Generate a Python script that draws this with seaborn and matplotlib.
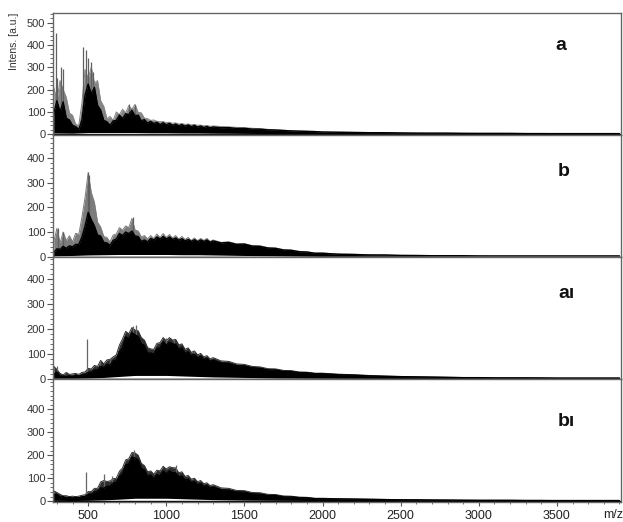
import numpy as np
import matplotlib
matplotlib.use("Agg")
import matplotlib.pyplot as plt
import seaborn as sns
from matplotlib.ticker import MultipleLocator, FixedLocator

sns.set_theme(style="ticks")
plt.rcParams['font.family'] = ['Liberation Sans', 'DejaVu Sans']

# m/z sampling: fine steps through the dense region, coarser in the tail
mz_fine = list(range(280, 1301, 20))
mz_tail = list(range(1350, 2001, 50)) + list(range(2100, 3901, 100))
mz_all = mz_fine + mz_tail
floor_mz = [280, 400, 500, 600, 700, 800, 900, 1000, 1100, 1200, 1300,
            1500, 1700, 2000, 2500, 3000, 3900]

# ---- spectrum a ----
body_a = [95, 150, 100, 145, 72, 64, 40, 34, 22, 64, 175, 225, 180, 210, 130, 108,
          62, 56, 40, 60, 62, 86, 70, 92, 88, 108, 82, 86, 60, 66, 50, 58, 48, 54,
          43, 52, 42, 49, 40, 46, 38, 44, 36, 42, 34, 40, 32, 37, 30, 35, 29, 33,
          29, 30, 26, 27, 23, 23, 20, 19, 17, 15, 14, 13, 12, 10,
          9, 8, 7, 7, 6, 5, 5, 5, 4, 4, 4, 4, 3, 3, 3, 3, 3, 3, 3]
peak_a = [210, 150, 240, 200, 165, 95, 85, 45, 40, 140, 290, 250, 300, 230, 240,
          150, 125, 70, 80, 62, 100, 88, 112, 96, 128, 112, 134, 98, 96, 72, 70,
          62, 64, 58, 56, 57, 52, 54, 49, 51, 46, 48, 44, 46, 42, 44, 40, 41, 38,
          39, 36, 37,
          35, 33, 31, 29, 27, 25, 22, 20, 18, 16, 15, 14, 13, 11,
          10, 9, 8, 7, 6, 6, 5, 5, 5, 4, 4, 4, 4, 4, 3, 3, 3, 3, 3]
spikes_a_mz = [294, 300, 326, 341, 470, 488, 500, 515, 532, 760, 800]
spikes_a_int = [455, 250, 300, 290, 390, 375, 340, 325, 280, 135, 130]
floor_a = [6, 5, 8, 8, 8, 8, 7, 7, 6, 6, 5, 4, 3, 2, 2, 2, 2]

# ---- spectrum b ----
body_b = [18, 32, 30, 42, 34, 44, 40, 50, 50, 80, 125, 180, 150, 125, 88, 84, 58,
          56, 46, 66, 72, 94, 86, 100, 94, 104, 84, 82, 62, 68, 60, 74, 68, 80, 72,
          82, 72, 80, 70, 76, 67, 73, 64, 70, 62, 69, 61, 68, 62, 68, 59, 64,
          56, 58, 50, 51, 43, 42, 35, 34, 27, 26, 20, 19, 14, 14,
          10, 9, 7, 7, 5, 5, 4, 4, 4, 3, 3, 3, 3, 3, 3, 3, 3, 3, 3]
peak_b = [60, 115, 55, 100, 65, 85, 60, 95, 90, 160, 240, 340, 260, 220, 140, 120,
          82, 78, 60, 88, 92, 118, 108, 125, 118, 155, 108, 104, 80, 86, 72, 86,
          74, 92, 78, 94, 78, 90, 76, 86, 72, 82, 70, 78, 66, 76, 65, 74, 66, 74,
          62, 68,
          58, 60, 52, 53, 45, 44, 37, 35, 29, 27, 22, 20, 15, 15,
          11, 10, 8, 7, 6, 5, 5, 4, 4, 4, 3, 3, 3, 3, 3, 3, 3, 3, 3]
spikes_b_mz = [310, 340, 498, 505, 790]
spikes_b_int = [115, 100, 345, 330, 160]
floor_b = [4, 5, 7, 8, 9, 9, 9, 9, 8, 8, 7, 5, 4, 2, 2, 2, 2]

# ---- spectrum a1 ----
body_a1 = [18, 28, 10, 12, 8, 12, 9, 14, 11, 16, 17, 26, 26, 36, 36, 50, 45, 58,
           55, 72, 76, 108, 124, 168, 160, 185, 176, 170, 140, 134, 102, 104, 98,
           122, 124, 148, 136, 146, 140, 138, 118, 124, 102, 108, 92, 98, 84, 90,
           77, 82, 70, 75,
           64, 62, 53, 52, 44, 43, 36, 36, 30, 30, 25, 25, 21, 21,
           17, 15, 12, 10, 9, 8, 7, 6, 5, 5, 4, 4, 4, 4, 3, 3, 3, 3, 3]
peak_a1 = [50, 38, 22, 16, 26, 18, 20, 22, 18, 26, 28, 42, 40, 54, 50, 74, 60, 76,
           78, 88, 96, 135, 160, 190, 180, 205, 195, 192, 165, 155, 125, 120, 118,
           142, 145, 165, 152, 165, 155, 158, 136, 140, 118, 124, 106, 112, 96,
           102, 88, 93, 80, 85,
           72, 70, 60, 58, 50, 48, 41, 40, 34, 33, 28, 27, 23, 23,
           19, 17, 14, 12, 10, 9, 8, 7, 6, 6, 5, 5, 5, 4, 4, 4, 4, 4, 4]
spikes_a1_mz = [300, 490, 575, 640, 790, 805, 1000, 1050, 1180]
spikes_a1_int = [50, 158, 70, 80, 210, 215, 165, 160, 110]
floor_a1 = [3, 3, 4, 6, 10, 14, 14, 14, 12, 10, 8, 6, 4, 3, 2, 2, 2]

# ---- spectrum b1 ----
body_b1 = [28, 30, 18, 20, 14, 17, 13, 17, 14, 20, 20, 30, 30, 40, 42, 58, 56, 66,
           64, 80, 82, 108, 120, 158, 162, 192, 188, 180, 142, 136, 108, 114, 98,
           116, 110, 132, 120, 132, 124, 124, 106, 110, 92, 96, 82, 86, 72, 77, 64,
           69, 57, 61,
           50, 48, 40, 40, 32, 31, 25, 25, 19, 19, 15, 15, 11, 11,
           10, 9, 8, 7, 6, 6, 5, 5, 4, 4, 4, 4, 3, 3, 3, 3, 3, 3, 3]
peak_b1 = [45, 38, 30, 24, 24, 20, 22, 20, 22, 26, 28, 42, 42, 56, 56, 84, 90, 86,
           88, 98, 100, 130, 145, 180, 185, 212, 210, 200, 165, 155, 128, 132, 118,
           135, 132, 152, 140, 150, 146, 145, 124, 128, 108, 112, 96, 100, 85, 90,
           76, 80, 68, 72,
           58, 56, 47, 46, 38, 37, 30, 29, 23, 22, 18, 17, 13, 13,
           11, 10, 9, 8, 7, 6, 6, 5, 5, 4, 4, 4, 4, 4, 3, 3, 3, 3, 3]
spikes_b1_mz = [300, 486, 600, 650, 795, 1060]
spikes_b1_int = [37, 129, 120, 110, 222, 157]
floor_b1 = [4, 3, 4, 6, 9, 13, 13, 13, 11, 9, 7, 5, 4, 3, 2, 2, 2]

panel_labels = ["a", "b", "a\u0131", "b\u0131"]
y_ticks = [[0, 100, 200, 300, 400, 500], [0, 100, 200, 300, 400],
           [0, 100, 200, 300, 400], [0, 100, 200, 300, 400]]
x_ticks = [500, 1000, 1500, 2000, 2500, 3000, 3500]

spectra = [
    (body_a, peak_a, spikes_a_mz, spikes_a_int, floor_a, (-3, 544)),
    (body_b, peak_b, spikes_b_mz, spikes_b_int, floor_b, (-2, 494)),
    (body_a1, peak_a1, spikes_a1_mz, spikes_a1_int, floor_a1, (-2, 486)),
    (body_b1, peak_b1, spikes_b1_mz, spikes_b1_int, floor_b1, (-2, 530)),
]

fig, axes = plt.subplots(4, 1, figsize=(6.23, 5.22), dpi=100, sharex=True,
                         gridspec_kw=dict(hspace=0))
fig.subplots_adjust(left=53 / 623, right=621 / 623,
                    top=1 - 12.7 / 522, bottom=1 - 501.7 / 522)

haze_colors = ["#858585", "#7c7c7c", "#2e2e2e", "#2e2e2e"]
spike_colors = ["#606060", "#606060", "#666666", "#666666"]
label_x = [0.884, 0.889, 0.889, 0.889]
label_y = [0.735, 0.705, 0.70, 0.66]
for i, (ax, (body, peak, smz, sint, floor, ylim)) in enumerate(zip(axes, spectra)):
    haze = haze_colors[i]
    # grey haze of the spike tips, then the dense black signal body
    ax.fill_between(mz_all, 0, peak, color=haze, lw=0, zorder=1)
    sns.lineplot(x=mz_all, y=peak, color=haze, lw=0.7, ax=ax, zorder=1.1,
                 estimator=None, sort=False)
    ax.vlines(smz, 0, sint, color=spike_colors[i], lw=0.9, zorder=1.2)
    ax.fill_between(mz_all, 0, body, color="black", lw=0, zorder=2)
    sns.lineplot(x=mz_all, y=body, color="black", lw=1.0, ax=ax, zorder=2.1,
                 estimator=None, sort=False)
    # noise floor below the signal
    ax.fill_between(floor_mz, -20, floor, color="white", lw=0, zorder=2.2)
    ax.axhline(0, color="black", lw=1.0, zorder=2.3)

    ax.set_xlim(275, 3910)
    ax.set_ylim(*ylim)
    ax.yaxis.set_major_locator(FixedLocator(y_ticks[i]))
    ax.yaxis.set_minor_locator(MultipleLocator(20))
    ax.xaxis.set_major_locator(FixedLocator(x_ticks))
    ax.xaxis.set_minor_locator(MultipleLocator(100))
    ax.set_xlabel("")
    ax.set_ylabel("")
    for sp in ax.spines.values():
        sp.set_color("#666666")
        sp.set_linewidth(1.0)
    ax.tick_params(axis="y", which="major", direction="out", length=4, width=0.8,
                   color="#555555", labelsize=8, labelcolor="#333333", pad=1.5)
    ax.tick_params(axis="y", which="minor", direction="out", length=2, width=0.6,
                   color="#555555")
    ax.tick_params(axis="x", which="major", direction="out", length=3, width=0.8,
                   color="#555555", labelsize=9, labelcolor="#222222", pad=3)
    ax.tick_params(axis="x", which="minor", direction="out", length=1.5, width=0.6,
                   color="#555555")
    ax.text(label_x[i], label_y[i], panel_labels[i], transform=ax.transAxes,
            ha="left", va="center", fontsize=14, fontweight="bold",
            color="#111111")

fig.text(14 / 623, 1 - 41 / 522, "Intens. [a.u.]", rotation=90, ha="center",
         va="center", fontsize=7.5, color="#333333")
fig.text(613 / 623, 1 - 515 / 522, "m/z", ha="center", va="center",
         fontsize=9, color="#222222")

fig.savefig("out.png", dpi=100, facecolor="white")
